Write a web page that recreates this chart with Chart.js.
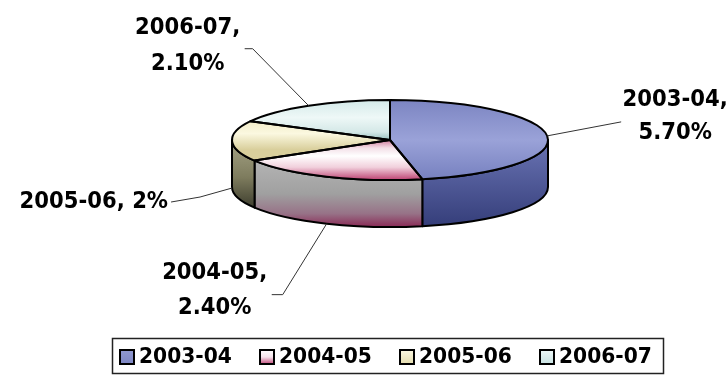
<!DOCTYPE html>
<html>
<head>
<meta charset="utf-8">
<script src="https://cdn.jsdelivr.net/npm/chart.js@4/dist/chart.umd.min.js"></script>
<style>
  html, body { margin: 0; padding: 0; background: #ffffff; }
  #wrap { width: 726px; height: 376px; }
</style>
</head>
<body>
<div id="wrap"><canvas id="c" width="726" height="376"></canvas></div>
<script>
// Growth by year (%)
const categories = ['2003-04', '2004-05', '2005-06', '2006-07'];
const values = [5.7, 2.4, 2.0, 2.1];

// Top-face shading stops (fractions of the ellipse height)
const topStops = [
  [[0, '#7c85c2'], [0.5, '#9aa2d8'], [1, '#7680bf']],
  [[0.5, '#d07c9c'], [0.6, '#f3dfe7'], [0.7, '#ffffff'], [0.84, '#f1d0dc'], [1, '#bd4272']],
  [[0.2, '#efe8bf'], [0.42, '#fbf8e0'], [0.62, '#d9cf9c']],
  [[0, '#d4eae9'], [0.22, '#eef8f7'], [0.4, '#d4e8e7'], [0.5, '#98c0bf']]
];
// Side-wall shading stops (fractions of each wall's own height)
const wallStops = [
  [[0, '#6a74b4'], [1, '#353e7a']],
  [[0, '#b4b4b4'], [0.5, '#a0a0a0'], [0.8, '#977287'], [1, '#8a2a56']],
  [[0, '#a6a486'], [0.55, '#7e7c5e'], [1, '#3e3e2e']],
  [[0, '#a0cccc'], [1, '#557777']]
];
// Legend swatch shading stops
const swatchStops = [
  [[0, '#9098d0'], [1, '#7e87c4']],
  [[0, '#ffffff'], [0.5, '#f6e4ec'], [1, '#c04a7a']],
  [[0, '#fbf8e2'], [1, '#e4dcae']],
  [[0, '#eef8f8'], [1, '#c8e2e2']]
];

// Label placement relative to each slice's anchor point
const labelLayout = [
  { path: [[74, -14]], align: 'center', tx: 128, ty: [-36, -3], two: true },
  { path: [[-44, 71], [-55, 71]], align: 'center', tx: -112, ty: [49, 84], two: true },
  { path: [[-32, 9], [-61, 14]], align: 'right', tx: -64, ty: [14], two: false },
  { path: [[-56, -57], [-64, -57]], align: 'center', tx: -121, ty: [-78, -42], two: true }
];

const LABEL_FONT = 'bold 23px "DejaVu Sans"';
const LEGEND_FONT = 'bold 22px "DejaVu Sans"';
const TEXT_SX = 0.92;  // horizontal squeeze of text
const RY = 40;         // vertical radius of the tilted top face
const DEPTH = 47;      // thickness of the disc
const TOP_Y = 140;     // centre line of the top face

function pct(v) {
  return (Number.isInteger(v) ? String(v) : v.toFixed(2)) + '%';
}

function fillStops(g, stops) {
  stops.forEach(s => g.addColorStop(s[0], s[1]));
  return g;
}

function drawText(ctx, text, x, y) {
  ctx.save();
  ctx.translate(x, y);
  ctx.scale(TEXT_SX, 1);
  ctx.fillText(text, 0, 0);
  ctx.restore();
}

// geometry of the pie as laid out by Chart.js
function pieGeom(chart) {
  const arcs = chart.getDatasetMeta(0).data;
  const p = arcs[0].getProps(['x', 'y', 'outerRadius'], true);
  return { cx: p.x, cy: p.y, R: p.outerRadius, arcs };
}

function topGradient(context) {
  const chart = context.chart;
  const area = chart.chartArea;
  const i = context.dataIndex;
  if (!area) return topStops[i][0][1];
  const cy = (area.top + area.bottom) / 2;
  const R = Math.min(area.right - area.left, area.bottom - area.top) / 2;
  const g = chart.ctx.createLinearGradient(0, cy - R, 0, cy + R);
  return fillStops(g, topStops[i]);
}

const pie3d = {
  id: 'pie3d',
  beforeDatasetsDraw(chart) {
    const ctx = chart.ctx;
    const { cx, cy, R, arcs } = pieGeom(chart);
    const k = RY / R;
    // side walls on the front half of the disc
    arcs.forEach((arc, i) => {
      const { startAngle, endAngle } = arc.getProps(['startAngle', 'endAngle'], true);
      const a1 = Math.max(startAngle, 0);
      const a2 = Math.min(endAngle, Math.PI);
      if (a2 <= a1) return;
      let yMin = Infinity, yMax = -Infinity;
      for (let t = a1; t <= a2 + 1e-9; t += (a2 - a1) / 40) {
        const y = TOP_Y + RY * Math.sin(t);
        yMin = Math.min(yMin, y);
        yMax = Math.max(yMax, y + DEPTH);
      }
      ctx.save();
      ctx.beginPath();
      ctx.moveTo(cx + R * Math.cos(a1), TOP_Y + RY * Math.sin(a1));
      ctx.ellipse(cx, TOP_Y, R, RY, 0, a1, a2, false);
      ctx.lineTo(cx + R * Math.cos(a2), TOP_Y + DEPTH + RY * Math.sin(a2));
      ctx.ellipse(cx, TOP_Y + DEPTH, R, RY, 0, a2, a1, true);
      ctx.closePath();
      ctx.fillStyle = fillStops(ctx.createLinearGradient(0, yMin, 0, yMax), wallStops[i]);
      ctx.fill();
      ctx.lineWidth = 2;
      ctx.lineJoin = 'round';
      ctx.strokeStyle = '#000';
      ctx.stroke();
      ctx.restore();
    });
    // tilt the library-drawn slices into the top face
    ctx.save();
    ctx.translate(0, TOP_Y);
    ctx.scale(1, k);
    ctx.translate(0, -cy);
  },
  afterDatasetsDraw(chart) {
    const ctx = chart.ctx;
    ctx.restore();
    const { cx, R, arcs } = pieGeom(chart);
    // slice outlines on the top face
    ctx.save();
    ctx.lineWidth = 2;
    ctx.lineJoin = 'round';
    ctx.strokeStyle = '#000';
    arcs.forEach(arc => {
      const { startAngle, endAngle } = arc.getProps(['startAngle', 'endAngle'], true);
      ctx.beginPath();
      ctx.moveTo(cx, TOP_Y);
      ctx.ellipse(cx, TOP_Y, R, RY, 0, startAngle, endAngle, false);
      ctx.closePath();
      ctx.stroke();
    });
    ctx.restore();

    // data labels with leader lines
    ctx.save();
    ctx.font = LABEL_FONT;
    ctx.fillStyle = '#000';
    ctx.textBaseline = 'middle';
    arcs.forEach((arc, i) => {
      const { startAngle, endAngle } = arc.getProps(['startAngle', 'endAngle'], true);
      const mid = (startAngle + endAngle) / 2;
      const ax = cx + R * Math.cos(mid);
      let ay = TOP_Y + RY * Math.sin(mid);
      if (Math.sin(mid) > 0) ay += DEPTH;
      const L = labelLayout[i];
      ctx.beginPath();
      ctx.moveTo(ax, ay);
      L.path.forEach(p => ctx.lineTo(ax + p[0], ay + p[1]));
      ctx.strokeStyle = '#333';
      ctx.lineWidth = 1;
      ctx.stroke();
      ctx.textAlign = L.align;
      if (L.two) {
        drawText(ctx, categories[i] + ',', ax + L.tx, ay + L.ty[0]);
        drawText(ctx, pct(values[i]), ax + L.tx, ay + L.ty[1]);
      } else {
        drawText(ctx, categories[i] + ', ' + pct(values[i]), ax + L.tx, ay + L.ty[0]);
      }
    });
    ctx.restore();
  },
  afterDraw(chart) {
    // boxed legend
    const ctx = chart.ctx;
    ctx.save();
    ctx.strokeStyle = '#222';
    ctx.lineWidth = 1.5;
    ctx.strokeRect(112.5, 338.5, 551, 35);
    ctx.font = LEGEND_FONT;
    ctx.textBaseline = 'middle';
    ctx.textAlign = 'left';
    categories.forEach((c, i) => {
      const x = 120 + i * 140;
      const y = 350;
      ctx.fillStyle = fillStops(ctx.createLinearGradient(0, y, 0, y + 14), swatchStops[i]);
      ctx.fillRect(x, y, 14, 14);
      ctx.lineWidth = 2;
      ctx.strokeStyle = '#000';
      ctx.strokeRect(x, y, 14, 14);
      ctx.fillStyle = '#000';
      drawText(ctx, c, x + 19, 357);
    });
    ctx.restore();
  }
};

new Chart(document.getElementById('c'), {
  type: 'pie',
  data: {
    labels: categories,
    datasets: [{
      data: values,
      backgroundColor: topGradient,
      borderWidth: 0,
      clip: false
    }]
  },
  options: {
    responsive: false,
    devicePixelRatio: 1,
    animation: false,
    layout: { padding: { left: 231, right: 177, top: 30, bottom: 30 } },
    plugins: {
      legend: { display: false },
      tooltip: { enabled: false }
    }
  },
  plugins: [pie3d]
});
</script>
</body>
</html>
